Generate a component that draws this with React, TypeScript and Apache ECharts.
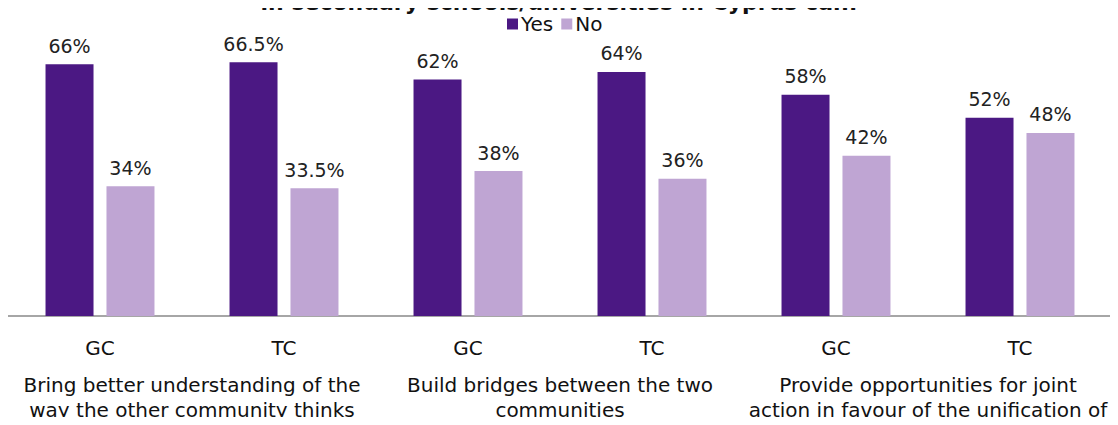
import React, { useEffect, useRef } from "react";
import * as echarts from "echarts";

const categories = ["GC", "TC", "GC", "TC", "GC", "TC"];
const groups = [
  "Bring better understanding of the\nway the other community thinks",
  "Build bridges between the two\ncommunities",
  "Provide opportunities for joint\naction in favour of the unification of\nCyprus",
];
const yesValues = [66, 66.5, 62, 64, 58, 52];
const noValues = [34, 33.5, 38, 36, 42, 48];
const titleText = "in secondary schools/universities in Cyprus can:";

const FONT = "DejaVu Sans";

export default function App() {
  const ref = useRef<HTMLDivElement>(null);
  useEffect(() => {
    const chart = echarts.init(ref.current!, null, { renderer: "svg" });
    const labelStyle = {
      show: true,
      position: "top" as const,
      distance: 9,
      fontFamily: FONT,
      fontSize: 19,
      color: "#222",
      formatter: (p: any) => p.value + "%",
    };
    chart.setOption({
      animation: false,
      title: {
        text: titleText,
        left: "center",
        top: -14,
        textStyle: { fontFamily: FONT, fontSize: 22, fontWeight: "bold", color: "#111" },
      },
      legend: {
        data: ["Yes", "No"],
        left: 502,
        top: 9,
        itemWidth: 11,
        itemHeight: 11,
        itemGap: 8,
        icon: "rect",
        textStyle: { fontFamily: FONT, fontSize: 20, color: "#111", padding: [0, 0, 0, -2] },
      },
      grid: { left: 8, right: 6, top: 49, height: 267, outerBoundsMode: "none" },
      xAxis: [
        {
          type: "category",
          data: categories,
          axisLine: { lineStyle: { color: "#a6a6a6", width: 2 } },
          axisTick: { show: false },
          axisLabel: { fontFamily: FONT, fontSize: 20, color: "#111", margin: 22 },
        },
        {
          type: "category",
          data: groups,
          position: "bottom",
          axisLine: { show: false },
          axisTick: { show: false },
          axisLabel: {
            fontFamily: FONT,
            fontSize: 20,
            color: "#111",
            margin: 56,
            lineHeight: 25,
            interval: 0,
          },
        },
      ],
      yAxis: { type: "value", min: 0, max: 70, show: false, splitLine: { show: false } },
      series: [
        {
          name: "Yes",
          type: "bar",
          data: yesValues,
          barWidth: 48,
          barGap: "27%",
          itemStyle: { color: "#4b1883" },
          label: labelStyle,
        },
        {
          name: "No",
          type: "bar",
          data: noValues,
          barWidth: 48,
          itemStyle: { color: "#bfa5d3" },
          label: labelStyle,
        },
      ],
    });
    return () => chart.dispose();
  }, []);
  return <div ref={ref} style={{ width: 1118, height: 425, margin: -8 }} />;
}
